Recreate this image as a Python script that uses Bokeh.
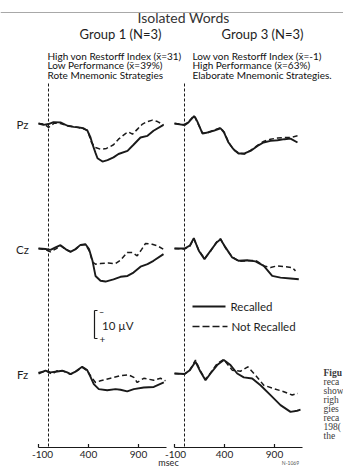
import numpy as np
from bokeh.plotting import figure
from bokeh.models import Range1d, Span
from bokeh.core.properties import value
from bokeh.embed import file_html
from bokeh.resources import INLINE

# ---------------- data ----------------
title = "Isolated Words"
group_titles = ["Group 1 (N=3)", "Group 3 (N=3)"]
group1_notes = ["High von Restorff Index (x\u0304=31)",
                "Low Performance (x\u0304=39%)",
                "Rote Mnemonic Strategies"]
group3_notes = ["Low von Restorff Index (x\u0304=-1)",
                "High Performance (x\u0304=63%)",
                "Elaborate Mnemonic Strategies."]
channels = ["Pz", "Cz", "Fz"]
conditions = ["Recalled", "Not Recalled"]
tick_values = [-100, 400, 900]
tick_labels = ["-100", "400", "900"]
axis_start_ms = -100
axis_end_ms = 1180
onset_ms = 0
x_unit_label = "msec"
scale_bar_uv = 10
scale_bar_label = "10 \u00b5V"
caption_head = "Figu"
caption_fragments = ["reca", "show", "righ", "gies", "reca", "198(", "the"]
stamp = "N-1069"

# Group 1 waveforms: time (ms), amplitude (uV; positive is plotted downward)
g1_pz_rec_t = [-100, -50, 0, 50, 120, 190, 250, 300, 350, 390, 420, 440, 470, 490, 540, 590, 650, 700, 790, 850, 920, 990, 1050, 1150]
g1_pz_rec_v = [0, 0.5, 0.2, -0.5, -0.4, 0.8, 1.2, 1.4, 1.7, 2.6, 5.0, 7.4, 10.5, 12.4, 13.6, 13.1, 12.1, 10.9, 9.8, 7.6, 5.0, 4.4, 2.6, 0.5]
g1_pz_nr_t = [-100, -40, 0, 30, 60, 120, 190, 300, 390, 430, 470, 520, 580, 650, 700, 770, 800, 840, 890, 940, 990, 1040, 1090, 1150]
g1_pz_nr_v = [0, 0.2, 1.4, 0.6, -0.2, 0, 0.8, 1.4, 2.4, 6.8, 8.6, 9.2, 8.9, 7.6, 5.6, 3.6, 3.0, 3.8, 2.0, 0.2, -0.7, -1.2, -0.7, 0.5]

g1_cz_rec_t = [-100, -30, 20, 70, 120, 170, 220, 270, 320, 370, 405, 440, 470, 520, 570, 650, 720, 790, 850, 920, 990, 1050, 1150]
g1_cz_rec_v = [0, 0.2, 0.5, -0.4, -1.2, 0.2, 1.2, 0.2, -1.3, -1.5, 0.2, 4.4, 9.8, 11.5, 11.8, 11.0, 10.1, 9.8, 8.6, 6.5, 5.6, 4.4, 2.0]
g1_cz_nr_t = [-100, -30, 20, 70, 120, 170, 220, 270, 320, 370, 410, 440, 470, 520, 600, 670, 720, 787, 837, 887, 930, 970, 1037, 1087, 1147]
g1_cz_nr_v = [0, 0.4, 1.2, 0.2, -1.0, 0.3, 1.1, 0.3, -1.2, -1.4, 1.0, 4.8, 5.6, 5.4, 5.2, 5.4, 4.2, 1.4, 1.4, 2.6, 0.4, -1.8, -1.5, -1.0, 0.2]

g1_fz_rec_t = [-100, -30, 20, 87, 137, 187, 220, 270, 337, 387, 420, 453, 503, 587, 670, 720, 787, 853, 953, 1053, 1153]
g1_fz_rec_v = [0, -1.0, -0.4, -0.7, -1.0, -0.4, 0.2, -0.7, -2.4, -1.2, 1.2, 3.8, 5.6, 6.0, 5.6, 5.8, 6.4, 5.6, 5.0, 4.8, 3.2]
g1_fz_nr_t = [-100, -13, 37, 87, 137, 187, 220, 270, 337, 387, 420, 470, 520, 620, 720, 803, 853, 887, 953, 1053, 1120, 1170]
g1_fz_nr_v = [-0.4, -0.7, 0.2, -1.0, -1.0, -0.3, 0.3, -0.6, -2.2, -1.0, 0.8, 3.2, 2.6, 1.7, 0.8, 0.5, 1.4, 3.2, 1.7, 2.4, 1.7, 2.6]

# Group 3 waveforms
g3_pz_rec_t = [-100, 0, 40, 80, 95, 110, 130, 180, 230, 290, 360, 395, 440, 490, 540, 600, 660, 730, 790, 860, 930, 1000, 1060, 1130]
g3_pz_rec_v = [0, 0.6, -0.4, -2.0, -2.6, -2.0, -0.6, 3.6, 3.2, 2.6, 1.7, 3.2, 6.8, 9.2, 10.7, 10.7, 9.8, 8.0, 6.8, 6.2, 6.0, 5.6, 5.4, 6.8]
g3_pz_nr_t = [-100, 0, 40, 80, 95, 110, 130, 180, 230, 290, 360, 395, 440, 490, 540, 600, 660, 730, 790, 860, 930, 1000, 1060, 1130]
g3_pz_nr_v = [0, 0.4, -0.6, -2.2, -2.8, -1.8, -0.3, 3.4, 3.4, 2.4, 1.5, 3.0, 6.6, 9.4, 10.5, 10.9, 9.6, 7.8, 6.4, 5.6, 5.2, 5.0, 5.0, 4.4]

g3_cz_rec_t = [-100, 0, 53, 93, 143, 200, 260, 320, 360, 410, 477, 543, 627, 710, 793, 877, 960, 1060, 1143]
g3_cz_rec_v = [0, 0, -1.0, -3.7, 0.8, 3.8, 0.8, -2.1, -3.3, -0.4, 3.2, 4.4, 4.2, 4.6, 6.2, 9.8, 10.4, 10.7, 11.0]
g3_cz_nr_t = [-100, 0, 53, 93, 143, 200, 260, 320, 360, 410, 477, 543, 627, 710, 793, 860, 927, 1010, 1077, 1110]
g3_cz_nr_v = [0, 0.2, -0.8, -3.5, 0.6, 3.6, 1.0, -2.3, -3.5, -0.2, 3.0, 4.6, 4.4, 4.2, 6.2, 6.8, 6.2, 6.5, 6.8, 8.0]

g3_fz_rec_t = [-100, 0, 53, 110, 160, 210, 260, 327, 393, 460, 527, 593, 677, 760, 860, 960, 1060, 1127, 1160]
g3_fz_rec_v = [0, 0.2, -1.2, -4.2, -0.6, 2.4, 0, -3.0, -4.8, -3.0, 0, 1.4, 1.8, 4.2, 7.7, 11.3, 13.7, 13.3, 12.9]
g3_fz_nr_t = [-100, 0, 53, 110, 160, 210, 260, 327, 393, 477, 560, 633, 710, 793, 893, 993, 1077, 1133]
g3_fz_nr_v = [0, 0.2, -1.2, -4.8, -0.8, 2.1, -0.2, -3.6, -5.0, -1.2, -0.8, -2.4, 0.6, 4.2, 5.4, 6.5, 7.7, 7.1]

waves = {
    0: {"Pz": ((g1_pz_rec_t, g1_pz_rec_v), (g1_pz_nr_t, g1_pz_nr_v)),
        "Cz": ((g1_cz_rec_t, g1_cz_rec_v), (g1_cz_nr_t, g1_cz_nr_v)),
        "Fz": ((g1_fz_rec_t, g1_fz_rec_v), (g1_fz_nr_t, g1_fz_nr_v))},
    1: {"Pz": ((g3_pz_rec_t, g3_pz_rec_v), (g3_pz_nr_t, g3_pz_nr_v)),
        "Cz": ((g3_cz_rec_t, g3_cz_rec_v), (g3_cz_nr_t, g3_cz_nr_v)),
        "Fz": ((g3_fz_rec_t, g3_fz_rec_v), (g3_fz_nr_t, g3_fz_nr_v))},
}

# ---------------- layout ----------------
W, H = 343, 466
PX_PER_MS = 0.1        # 10 px per 100 ms
PX_PER_UV = 2.8        # 10 uV = 28 px
ORIGIN_X = 48          # canvas px of 0 ms in the Group 1 panel
GROUP_SHIFT = 1360     # ms offset that places the Group 3 panel
CH_BASE_PX = {"Pz": 123, "Cz": 248, "Fz": 373}
INK = "#1a1a1a"
TXT = "#1e1e1e"
FONT = "Lato"


def X(px):
    return (px - ORIGIN_X) / PX_PER_MS


def Y(px):
    return px / PX_PER_UV


p = figure(width=W, height=H, output_backend="svg", toolbar_location=None,
           x_range=Range1d(X(0), X(W)), y_range=Range1d(Y(H), Y(0)),
           x_axis_location=None, y_axis_location=None,
           min_border=0, outline_line_color=None, background_fill_color="white",
           border_fill_color="white")
p.grid.visible = False


def txt(xs, ys, texts, size, align="left", font=FONT, style="normal", color=TXT,
        baseline="middle", x_offset=0):
    p.text(x=xs, y=ys, text=texts, text_font=value(font), text_font_size=value(size),
           text_align=align, text_baseline=baseline, text_color=color, text_font_style=style,
           x_offset=x_offset)


# top rule of the scanned page
p.add_layout(Span(location=Y(12), dimension="width", line_color="#a8a8a8", line_width=1))

# header
txt([X(183)], [Y(17)], [title], "14px", align="center", color="#333333")
txt([X(120), X(262)], [Y(33.5), Y(33.5)], group_titles, "13px", align="center")
note_y = [Y(55), Y(64.5), Y(74)]
txt([X(47)] * 3, note_y, group1_notes, "10px", color="#111111")
txt([X(192)] * 3, note_y, group3_notes, "10px", color="#111111")

# channel labels
txt([X(22)] * 3, [Y(CH_BASE_PX[c] + 1) for c in channels], channels, "11.5px", align="center")

# stimulus-onset dashed lines and time axes
for g in (0, 1):
    sh = g * GROUP_SHIFT
    p.segment(x0=[onset_ms + sh], y0=[Y(83)], x1=[onset_ms + sh], y1=[Y(447)],
              line_color=INK, line_width=1, line_dash="3 2")
    p.segment(x0=[axis_start_ms + sh], y0=[Y(447)], x1=[axis_end_ms + sh], y1=[Y(447)],
              line_color=INK, line_width=1.2)
    tv = [t + sh for t in tick_values]
    p.segment(x0=tv, y0=[Y(447)] * 3, x1=tv, y1=[Y(443.5)] * 3, line_color=INK, line_width=1.2)
    txt(tv, [Y(454)] * 3, tick_labels, "10px", align="center",
        x_offset=[4 if g == 0 else 1, 0, 0])

txt([X(168)], [Y(461.5)], [x_unit_label], "9px", align="center")
txt([X(290)], [Y(462)], [stamp], "5px", align="center", color="#555555")

# waveforms
for g in (0, 1):
    sh = g * GROUP_SHIFT
    for c in channels:
        base = Y(CH_BASE_PX[c])
        (rt, rv), (nt, nv) = waves[g][c]
        p.line(x=np.array(nt) + sh, y=base + np.array(nv), line_color=INK, line_width=1.5,
               line_dash="5 3")
        p.line(x=np.array(rt) + sh, y=base + np.array(rv), line_color=INK, line_width=1.9)

# scale bar (10 uV, negative up)
sb_x = X(94)
sb_top = Y(310)
p.segment(x0=[sb_x], y0=[sb_top], x1=[sb_x], y1=[sb_top + scale_bar_uv], line_color=INK, line_width=1.2)
p.segment(x0=[sb_x, sb_x], y0=[sb_top, sb_top + scale_bar_uv], x1=[X(97), X(97)],
          y1=[sb_top, sb_top + scale_bar_uv], line_color=INK, line_width=1)
txt([X(101)], [Y(310.5)], ["\u2013"], "9px", align="center")
txt([X(102)], [Y(339)], ["+"], "10px", align="center")
txt([X(101.5)], [Y(324.5)], [scale_bar_label], "11.5px")

# legend
p.segment(x0=[X(192)], y0=[Y(306)], x1=[X(225)], y1=[Y(306)], line_color=INK, line_width=1.9)
p.segment(x0=[X(192)], y0=[Y(326)], x1=[X(227)], y1=[Y(326)], line_color=INK, line_width=1.5,
          line_dash="7 3")
txt([X(230), X(231)], [Y(306), Y(326)], conditions, "11.5px")

# cut-off caption of the scanned page
txt([X(323)], [Y(372)], [caption_head], "9.5px", font="Liberation Serif", style="bold",
    color="#3a3a3a")
txt([X(323)] * len(caption_fragments), [Y(381 + 9 * i) for i in range(len(caption_fragments))],
    caption_fragments, "9.5px", font="Liberation Serif", color="#3a3a3a")

open("out.html", "w").write(file_html(p, INLINE))
